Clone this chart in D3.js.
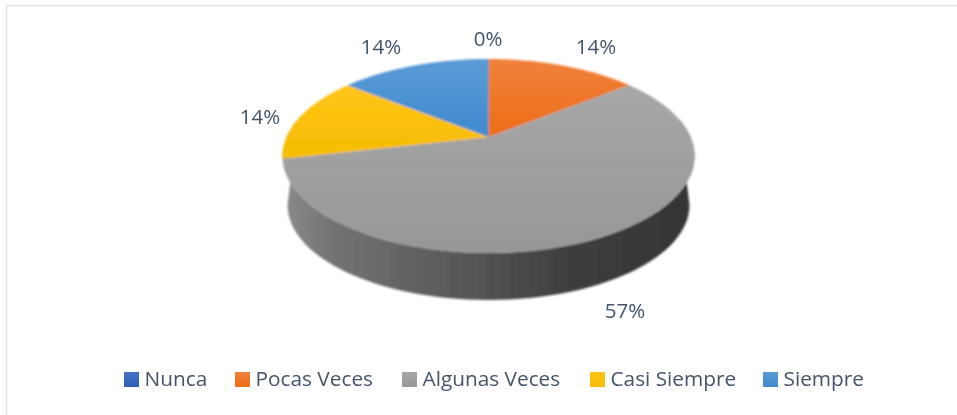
<!DOCTYPE html>
<html><head><meta charset="utf-8">
<script src="https://cdn.jsdelivr.net/npm/d3@7"></script>
<style>html,body{margin:0;padding:0;background:#fff}svg{display:block}</style>
</head><body><div id="c"></div>
<script>
const categories = ["Nunca","Pocas Veces","Algunas Veces","Casi Siempre","Siempre"];
const values = [0,1,4,1,1];
const colorsTop = ["#4472c4","#f0823c","#a6a6a6","#ffc41a","#5b9bd5"];
const colorsBottom = ["#2f5fb5","#ee6c15","#989898","#f5bd00","#3f8ad0"];
const legendX = [124,235,402,590,763];
const labelPos = [[488,46],[596,54],[625,318],[260,124],[381,54]];

const W=957,H=415;
const svg=d3.select("#c").append("svg").attr("width",W).attr("height",H);
const defs=svg.append("defs");
const font="'Open Sans',sans-serif";
const textCol="#44546a";

// chart frame (open on the right and bottom, as in the crop)
svg.append("path").attr("d",d3.line()([[6.5,H],[6.5,5.5],[W,5.5]]))
  .attr("fill","none").attr("stroke","#e2e3e8").attr("stroke-width",1.4);

categories.forEach((c,i)=>{
  const g=defs.append("linearGradient").attr("id","g"+i).attr("x1",0).attr("y1",0).attr("x2",0).attr("y2",1);
  g.append("stop").attr("offset",0).attr("stop-color",colorsTop[i]);
  g.append("stop").attr("offset",1).attr("stop-color",colorsBottom[i]);
});
const gw=defs.append("linearGradient").attr("id","wall").attr("gradientUnits","userSpaceOnUse")
  .attr("x1",284).attr("y1",0).attr("x2",693).attr("y2",0);
[[0,"#8a8a8a"],[0.12,"#737373"],[0.45,"#565656"],[0.7,"#3e3e3e"],[1,"#343434"]].forEach(s=>
  gw.append("stop").attr("offset",s[0]).attr("stop-color",s[1]));
const sheen=defs.append("linearGradient").attr("id","grey").attr("gradientUnits","userSpaceOnUse")
  .attr("x1",0).attr("y1",60).attr("x2",0).attr("y2",253);
sheen.append("stop").attr("offset",0).attr("stop-color","#aaaaaa");
sheen.append("stop").attr("offset",1).attr("stop-color","#979797");
const blur=(id,s)=>defs.append("filter").attr("id",id).attr("x","-5%").attr("y","-5%").attr("width","110%").attr("height","110%")
  .append("feGaussianBlur").attr("stdDeviation",s);
blur("soft",0.8); blur("softText",0.3);

// perspective projection of the pie's disc
const cx=488.5, apexY=137, a=202, b=93.3, k=0.196;
const project=t=>{
  const u=Math.sin(t),v=Math.cos(t),w=1+k*v;
  return [cx+a*u/w, apexY-b*v/w];
};
const floor=t=>[cx+201*Math.sin(t),205-95*Math.cos(t)];
const arcs=d3.pie().sort(null).value(d=>d)(values);
const curve=(fn,t0,t1)=>d3.range(0,61).map(i=>fn(t0+(t1-t0)*i/60));
const line=d3.line();

const pie=svg.append("g").attr("filter","url(#soft)");
// side wall: front half of the rim, top edge to floor edge
const rimR=Math.PI/2-0.2, rimL=3*Math.PI/2+0.2;
pie.append("path")
  .attr("d",line([...curve(project,rimR,rimL),...curve(floor,3*Math.PI/2,Math.PI/2)])+"Z")
  .attr("fill","url(#wall)");
// top face
arcs.forEach((d,i)=>{
  if(d.endAngle===d.startAngle) return;
  pie.append("path")
    .attr("d",line([[cx,apexY],...curve(project,d.startAngle,d.endAngle)])+"Z")
    .attr("fill",i===2?"url(#grey)":"url(#g"+i+")");
});
// zero-value slice shows as a hairline at the top
pie.append("path").attr("d",line([[cx,apexY],project(0)]))
  .attr("stroke","#8f9aa5").attr("stroke-width",1).attr("fill","none");

// data labels
const total=d3.sum(values);
const fmt=d3.format(".0%");
svg.append("g").attr("filter","url(#softText)").selectAll("text").data(arcs).join("text")
  .attr("x",(d,i)=>labelPos[i][0]).attr("y",(d,i)=>labelPos[i][1])
  .attr("text-anchor","middle").attr("font-family",font).attr("font-size",20.5).attr("fill",textCol)
  .text(d=>fmt(d.value/total));

// legend
const lg=svg.append("g").selectAll("g").data(categories).join("g")
  .attr("transform",(d,i)=>`translate(${legendX[i]},372)`);
lg.append("rect").attr("width",15).attr("height",15).attr("fill",(d,i)=>"url(#g"+i+")");
lg.append("text").attr("x",20.5).attr("y",14).attr("font-family",font).attr("font-size",20.8)
  .attr("fill",textCol).attr("filter","url(#softText)").text(d=>d);
</script></body></html>
